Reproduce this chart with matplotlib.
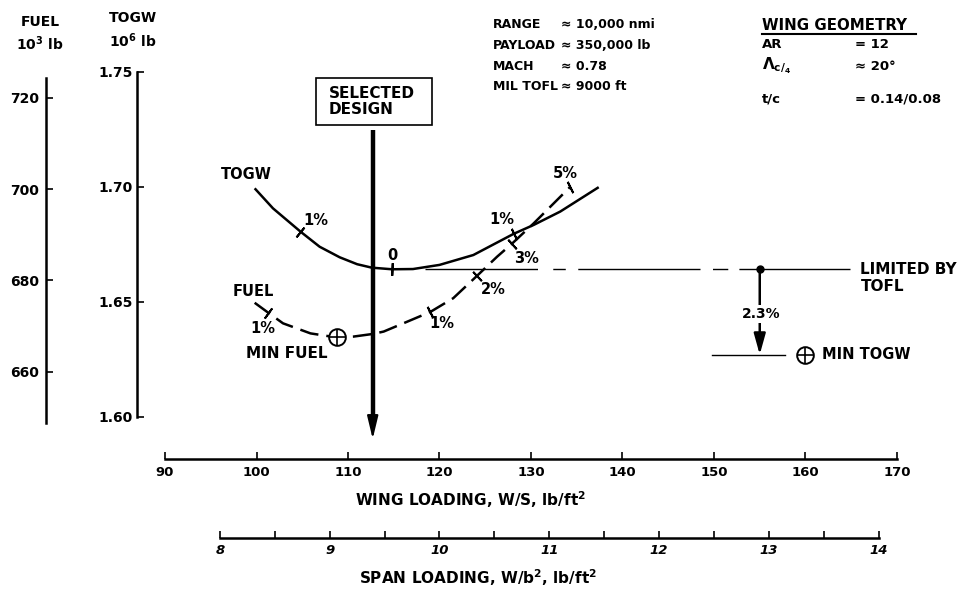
import numpy as np
import matplotlib
matplotlib.use('Agg')
import matplotlib.pyplot as plt
from matplotlib.patches import Rectangle

plt.rcParams['font.family'] = ['DejaVu Sans']
plt.rcParams['font.weight'] = 'bold'
plt.rcParams['mathtext.fontset'] = 'custom'
plt.rcParams['mathtext.rm'] = 'DejaVu Sans:bold'
plt.rcParams['mathtext.it'] = 'DejaVu Sans:italic:bold'
plt.rcParams['mathtext.bf'] = 'DejaVu Sans:bold'
plt.rcParams['mathtext.default'] = 'rm'

# TOGW vs wing loading (10^6 lb)
ws_togw = [99.8, 101.8, 104.8, 106.9, 109.1, 111.0, 112.6, 114.8, 117.1,
           120.0, 123.7, 128.1, 130.3, 133.2, 137.4]
togw = [1.6994, 1.6907, 1.6806, 1.6740, 1.6694, 1.6664, 1.6649, 1.6642,
        1.6643, 1.6661, 1.6704, 1.6796, 1.6835, 1.6893, 1.6999]
togw_pct_ws = [104.8, 114.8, 128.1]
togw_pct_lbl = ['1%', '0', '1%']

# fuel vs wing loading (10^3 lb)
ws_fuel = [99.8, 101.3, 102.9, 105.9, 108.8, 110.6, 112.8, 113.9, 116.4,
           119.0, 121.5, 124.1, 126.3, 127.9, 130.3, 134.3]
fuel = [675.1, 672.9, 670.6, 668.4, 667.5, 667.7, 668.3, 668.8, 670.9,
        673.1, 676.1, 681.0, 685.2, 688.0, 692.5, 700.5]
fuel_pct_ws = [101.3, 119.0, 124.1, 127.9, 134.3]
fuel_pct_lbl = ['1%', '1%', '2%', '3%', '5%']
min_fuel = (108.8, 667.5)

selected_ws = 112.7
tofl_ws = [118.4, 164.9]
tofl_togw = 1.6645
tofl_pick_ws = 155.0
min_togw_pct = 2.3
min_togw = tofl_togw / (1 + min_togw_pct / 100)
min_togw_line = [149.8, 157.8]

ws_ticks = list(range(90, 171, 10))
span_ticks = list(range(8, 15))
togw_ticks = [1.60, 1.65, 1.70, 1.75]
fuel_ticks = [660, 680, 700, 720]
aspect_ratio = 12

W, H = 962, 590


def px(x, y):
    return x / W, 1 - y / H


fig = plt.figure(figsize=(W / 100, H / 100), dpi=100)
ax = fig.add_axes([165 / W, 131 / H, 732 / W, 399 / H])
ax.set_xlim(90, 170)
ax.set_ylim(1.5817, 1.7552)
ax.spines['top'].set_visible(False)
ax.spines['right'].set_visible(False)
ax.spines['left'].set_position(('axes', -28 / 732))
ax.spines['left'].set_bounds(1.60, 1.75)
ax.set_yticks(togw_ticks, labels=['%.2f' % t for t in togw_ticks])
ax.set_xticks(ws_ticks)
ax.tick_params(direction='in', length=5, width=1.2)
ax.tick_params(axis='x', pad=5, labelsize=9.5)
ax.tick_params(axis='y', pad=3, labelsize=10)
for s in ax.spines.values():
    s.set_linewidth(1.8)

ax2 = ax.twinx()
ax2.set_ylim(640.9, 728.25)
for k in ['top', 'right', 'bottom']:
    ax2.spines[k].set_visible(False)
ax2.spines['left'].set_visible(True)
ax2.spines['left'].set_position(('axes', -119 / 732))
ax2.spines['left'].set_bounds(648.8, 724.3)
ax2.spines['left'].set_linewidth(1.8)
ax2.yaxis.tick_left()
ax2.set_yticks(fuel_ticks)
ax2.tick_params(direction='in', length=5, width=1.2, labelsize=10, pad=5)

sec = ax.secondary_xaxis(-79 / 399, functions=(lambda w: w / aspect_ratio,
                                               lambda s: s * aspect_ratio))
sec.spines['bottom'].set_bounds(8, 14)
sec.spines['bottom'].set_linewidth(1.8)
sec.set_xticks(span_ticks, labels=[str(t) for t in span_ticks], fontstyle='italic')
sec.set_xticks(np.arange(8.5, 14, 1.0), minor=True)
sec.tick_params(which='both', direction='in', length=5, width=1.2,
                labelsize=9.5, pad=4)

# curves
ax.plot(ws_togw, togw, color='black', lw=1.8, solid_capstyle='butt')
ax2.plot(ws_fuel, fuel, color='black', lw=1.8, dashes=(7.5, 3.2))


def pct_ticks(axis, xs, ys, at):
    at = np.asarray(at, dtype=float)
    yt = np.interp(at, xs, ys)
    d = 0.6
    p0 = axis.transData.transform(np.column_stack([at - d, np.interp(at - d, xs, ys)]))
    p1 = axis.transData.transform(np.column_stack([at + d, np.interp(at + d, xs, ys)]))
    ang = np.degrees(np.arctan2(p1[:, 1] - p0[:, 1], p1[:, 0] - p0[:, 0]))
    for x, y, a in zip(at, yt, ang):
        axis.plot(x, y, marker=(2, 2, a), ms=9, mew=1.4, color='black', ls='none')


pct_ticks(ax, ws_togw, togw, togw_pct_ws)
pct_ticks(ax2, ws_fuel, fuel, fuel_pct_ws)

# curve labels
fs = 10.5
togw_lbl_pos = [(106.5, 1.6853), (114.8, 1.6704), (126.8, 1.6857)]
for (x, y), t in zip(togw_lbl_pos, togw_pct_lbl):
    ax.text(x, y, t, ha='center', va='center', fontsize=fs)
fuel_lbl_pos = [(100.7, 1.6386), (120.2, 1.6407), (125.9, 1.6555),
                (129.5, 1.6690), (133.8, 1.7060)]
for (x, y), t in zip(fuel_lbl_pos, fuel_pct_lbl):
    ax.text(x, y, t, ha='center', va='center', fontsize=fs)
ax.text(98.9, 1.7052, 'TOGW', ha='center', va='center', fontsize=fs)
ax.text(99.6, 1.6545, 'FUEL', ha='center', va='center', fontsize=fs)
ax.text(103.3, 1.6277, 'MIN FUEL', ha='center', va='center', fontsize=11)

# min fuel marker
ax2.plot(*min_fuel, marker='o', ms=12, mfc='white', mec='black', mew=1.4)
ax2.plot(*min_fuel, marker='+', ms=11, mec='black', mew=1.2)

# selected design
ax.plot([selected_ws, selected_ws], [1.7248, 1.600], color='black', lw=3.2,
        solid_capstyle='butt')
ax.annotate('', xy=(selected_ws, 1.5904), xytext=(selected_ws, 1.603),
            arrowprops=dict(arrowstyle='-|>,head_length=1.0,head_width=0.24',
                            color='black', lw=1.5, shrinkA=0, shrinkB=0,
                            mutation_scale=14))
ax.add_patch(Rectangle((106.5, 1.7270), 12.7, 0.0204, fill=False,
                       ec='black', lw=1.2))
ax.text(107.9, 1.7372, 'SELECTED\nDESIGN', ha='left', va='center',
        fontsize=11, linespacing=1.1)

# TOFL limit
ax.plot(tofl_ws, [tofl_togw, tofl_togw], color='black', lw=1.0,
        ls=(0, (81, 11, 9, 9, 88, 9, 11, 8, 200)))
ax.plot(tofl_pick_ws, tofl_togw, 'o', color='black', ms=5)
ax.text(166.0, 1.6605, 'LIMITED BY\nTOFL', ha='left', va='center',
        fontsize=11, linespacing=1.15)
ax.annotate('', xy=(tofl_pick_ws, min_togw), xytext=(tofl_pick_ws, tofl_togw),
            arrowprops=dict(arrowstyle='-|>,head_length=0.9,head_width=0.25',
                            color='black', lw=1.8, shrinkA=0, shrinkB=0,
                            mutation_scale=14))
ax.text(tofl_pick_ws + 0.2, 1.6448, '%.1f%%' % min_togw_pct, ha='center',
        va='center', fontsize=10,
        bbox=dict(boxstyle='square,pad=0.15', fc='white', ec='none'))
ax.plot(min_togw_line, [min_togw, min_togw], color='black', lw=1.0)
ax.plot(159.95, min_togw, marker='o', ms=12, mfc='white', mec='black', mew=1.4)
ax.plot(159.95, min_togw, marker='+', ms=11, mec='black', mew=1.2)
ax.text(161.8, min_togw, 'MIN TOGW', ha='left', va='center', fontsize=10.5)

# axis headers and labels
fig.text(*px(40, 22), 'FUEL', ha='center', va='center', fontsize=10)
fig.text(*px(40, 44), '10$^3$ lb', ha='center', va='center', fontsize=10)
fig.text(*px(133, 18), 'TOGW', ha='center', va='center', fontsize=10)
fig.text(*px(133, 41), '10$^6$ lb', ha='center', va='center', fontsize=10)
fig.text(*px(471, 500), 'WING LOADING, W/S, lb/ft$^2$', ha='center',
         va='center', fontsize=11)
fig.text(*px(478, 578), 'SPAN LOADING, W/b$^2$, lb/ft$^2$', ha='center',
         va='center', fontsize=11)

# design conditions
cond = [('RANGE', '\u2248 10,000 nmi'), ('PAYLOAD', '\u2248 350,000 lb'),
        ('MACH', '\u2248 0.78'), ('MIL TOFL', '\u2248 9000 ft')]
for i, (k, v) in enumerate(cond):
    fig.text(*px(493, 25 + 20.5 * i), k, ha='left', va='center', fontsize=9)
    fig.text(*px(561, 25 + 20.5 * i), v, ha='left', va='center', fontsize=9)

fig.text(*px(762, 25), 'WING GEOMETRY', ha='left', va='center', fontsize=10.8)
fig.add_artist(plt.Line2D([762 / W, 916 / W], [1 - 34 / H, 1 - 34 / H],
                          color='black', lw=1.5))
geom = [('AR', '= 12', 45, 9.5), (r'$\Lambda_{c/_4}$', '\u2248 20\u00b0', 66, 11),
        ('t/c', '= 0.14/0.08', 99, 9.5)]
for k, v, y, s in geom:
    fig.text(*px(762, y), k, ha='left', va='center', fontsize=s)
    fig.text(*px(855, y), v, ha='left', va='center', fontsize=9.5)

fig.savefig('out.png', dpi=100)
